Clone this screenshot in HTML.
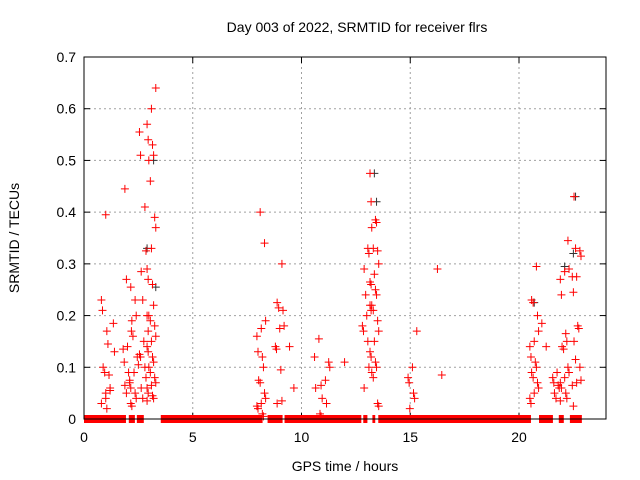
<!DOCTYPE html>
<html><head><meta charset="utf-8"><style>
html,body{margin:0;padding:0;background:#fff;}
svg{display:block;font-family:"Liberation Sans",sans-serif;}
</style></head><body>
<svg id="chart" width="640" height="480">
<text x="357" y="32" text-anchor="middle" font-size="14">Day 003 of 2022, SRMTID for receiver flrs</text>
<text x="19" y="238" text-anchor="middle" font-size="14" transform="rotate(-90 19 238)">SRMTID / TECUs</text>
<text x="345" y="471" text-anchor="middle" font-size="14">GPS time / hours</text>
<g id="grid"></g><g id="axes"></g><g id="zeros"></g><g id="pts"></g>
<rect x="84" y="57" width="522" height="362" fill="none" stroke="#000" stroke-width="1"/>
</svg>
<script>
const xTicks=[0,5,10,15,20];
const yTicks=[0,0.1,0.2,0.3,0.4,0.5,0.6,0.7];
const yTickLabels=["0","0.1","0.2","0.3","0.4","0.5","0.6","0.7"];
const zeroStart=[0,2.06,2.43,3.53,8.44,9.22,12.84,13.26,13.53,20.92,21.83,22.34];
const zeroEnd=[1.93,2.34,2.75,8.21,9.13,12.75,13.03,13.39,20.55,21.56,22.06,22.89];
const clusterTimes=[1.0,1.2,2.0,2.3,2.75,3.1,8.15,9.0,9.6,10.8,11.1,12.1,13.0,13.35,15.1,16.3,20.7,21.2,21.75,22.1,22.65];
const clusterValues=[
[0.395,0.23,0.21,0.17,0.145,0.1,0.09,0.085,0.06,0.05,0.03],
[0.185,0.13,0.055,0.04,0.02],
[0.445,0.27,0.255,0.19,0.14,0.135,0.11,0.09,0.075,0.065,0.05,0.03,0.025],
[0.23,0.2,0.17,0.16,0.12,0.105,0.09,0.07,0.06,0.05,0.04],
[0.555,0.51,0.41,0.325,0.285,0.23,0.2,0.17,0.15,0.125,0.12,0.1,0.08,0.06,0.04,0.035],
[0.64,0.6,0.57,0.54,0.53,0.51,0.5,0.46,0.39,0.37,0.33,0.29,0.27,0.26,0.22,0.2,0.19,0.18,0.16,0.15,0.14,0.13,0.12,0.11,0.1,0.09,0.08,0.07,0.065,0.06,0.05,0.045,0.04],
[0.4,0.34,0.19,0.175,0.16,0.13,0.12,0.1,0.075,0.07,0.05,0.04,0.03,0.025,0.02,0.01,0.005],
[0.3,0.225,0.215,0.21,0.18,0.175,0.14,0.135,0.095,0.035,0.03],
[0.14,0.06],
[0.155,0.12,0.06,0.01,0.005],
[0.11,0.1,0.075,0.065,0.04,0.03],
[0.11],
[0.33,0.32,0.29,0.24,0.22,0.21,0.2,0.18,0.17,0.15,0.1,0.06],
[0.475,0.42,0.385,0.38,0.37,0.33,0.325,0.3,0.28,0.265,0.26,0.25,0.24,0.22,0.21,0.19,0.17,0.15,0.13,0.12,0.11,0.1,0.09,0.08,0.03,0.025],
[0.17,0.1,0.08,0.07,0.05,0.04,0.02],
[0.29,0.085],
[0.295,0.23,0.225,0.2,0.17,0.15,0.14,0.12,0.11,0.1,0.09,0.08,0.07,0.06,0.05,0.04,0.03],
[0.185,0.14],
[0.09,0.08,0.07,0.065,0.06,0.05,0.04,0.035],
[0.345,0.29,0.285,0.27,0.24,0.165,0.15,0.14,0.135,0.1,0.09,0.08,0.07,0.06,0.05,0.04],
[0.43,0.33,0.325,0.315,0.275,0.275,0.245,0.18,0.175,0.15,0.115,0.1,0.075,0.07,0.065,0.025]
];
const darkTimes=[3.2,13.35,22.6,13.45,2.9,22.5,20.7,22.1,3.3];
const darkValues=[0.5,0.475,0.43,0.42,0.33,0.32,0.225,0.295,0.255];

const NS="http://www.w3.org/2000/svg";
const X0=84,X1=606,Y0=419,Y1=57;
const xs=t=>X0+t/24*(X1-X0);
const ys=v=>Y0-v/0.7*(Y0-Y1);
function mk(tag,attrs,parent){const e=document.createElementNS(NS,tag);for(const k in attrs)e.setAttribute(k,attrs[k]);parent.appendChild(e);return e;}
const grid=document.getElementById('grid'),axes=document.getElementById('axes');
yTicks.forEach((v,i)=>{
  const y=ys(v);
  if(i>0&&i<yTicks.length-1){const g=mk('line',{x1:X0,x2:X1,y1:y,y2:y,stroke:'#a0a0a0','stroke-dasharray':'2,3'},grid);
  
  }
  mk('line',{x1:X0,x2:X0+6,y1:y,y2:y,stroke:'#000'},axes);
  mk('line',{x1:X1,x2:X1-6,y1:y,y2:y,stroke:'#000'},axes);
  const t=mk('text',{x:X0-8,y:y+5,'text-anchor':'end','font-size':14},axes);t.textContent=yTickLabels[i];
  
  
});
xTicks.forEach(v=>{
  const x=xs(v);
  if(v>0){const g=mk('line',{x1:x,x2:x,y1:Y0,y2:Y1,stroke:'#a0a0a0','stroke-dasharray':'2,3'},grid);
  
  }
  mk('line',{x1:x,x2:x,y1:Y0,y2:Y0-6,stroke:'#000'},axes);
  mk('line',{x1:x,x2:x,y1:Y1,y2:Y1+6,stroke:'#000'},axes);
  const t=mk('text',{x:x,y:442,'text-anchor':'middle','font-size':14},axes);t.textContent=String(v);
  
  
});
const zg=document.getElementById('zeros');
zeroStart.forEach((s,i)=>{
  const r=mk('rect',{x:xs(s),y:Y0-4,width:Math.max(1,xs(zeroEnd[i])-xs(s)),height:8,fill:'#ff0000'},zg);
  
  
});
const pg=document.getElementById('pts');
function plus(t,v,color){
  const x=xs(t),y=ys(v);
  const p=mk('path',{d:`M${x-4},${y}H${x+4}M${x},${y-4}V${y+4}`,stroke:color,'stroke-width':1,fill:'none'},pg);
  
  
}
darkTimes.forEach((t,i)=>plus(t,darkValues[i],'#333'));
const jit=[0,0.15,-0.12,0.05,-0.2,0.2,-0.05,0.1,-0.15];
clusterTimes.forEach((t,ci)=>{
  clusterValues[ci].forEach((v,j)=>{
    plus(t+jit[(j*4+ci)%jit.length],v,'#ff0000');
  });
});
</script>
</body></html>
